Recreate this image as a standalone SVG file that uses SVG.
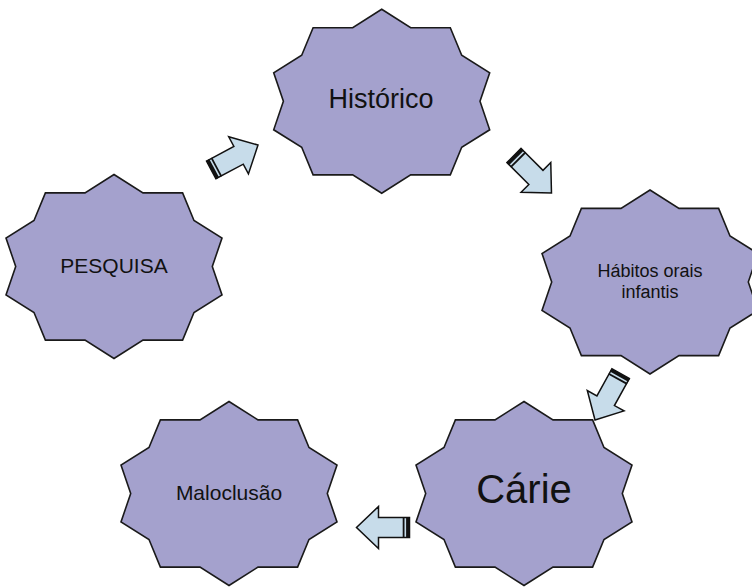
<svg xmlns="http://www.w3.org/2000/svg" xmlns:xlink="http://www.w3.org/1999/xlink" width="752" height="587" viewBox="0 0 752 587">
<style>
.star{fill:#a4a1cd;stroke:#1a1a1a;stroke-width:1.6;stroke-linejoin:miter}
.arr{fill:#c7dcea;stroke:#111;stroke-width:1.5;stroke-linejoin:miter}
.stripe{fill:#111}
.lbl{font-family:"Liberation Sans",Arial,sans-serif;fill:#111;text-anchor:middle}
</style>
<defs>
<polygon id="starShape" class="star" points="0,-92 29,-73.6 68.6,-73.6 80,-46 108,-28.5 98.3,0 108,28.5 80,46 68.6,73.6 29,73.6 0,92 -29,73.6 -68.6,73.6 -80,46 -108,28.5 -98.3,0 -108,-28.5 -80,-46 -68.6,-73.6 -29,-73.6"/>
<g id="arrowShape">
<polygon class="arr" points="0,-10 31,-10 31,-21 53,0 31,21 31,10 0,10"/>
<rect class="stripe" x="0" y="-10.5" width="3.4" height="21"/>
<rect class="stripe" x="5" y="-10.5" width="1.8" height="21"/>
</g>
</defs>
<rect width="752" height="587" fill="#ffffff"/>
<g id="connectors">
<use xlink:href="#arrowShape" transform="translate(211.2,169.9) rotate(-28)"/>
<use xlink:href="#arrowShape" transform="translate(514,155.5) rotate(45)"/>
<use xlink:href="#arrowShape" transform="translate(620.7,373.6) rotate(119)"/>
<use xlink:href="#arrowShape" transform="translate(409.5,527.5) rotate(180)"/>
</g>
<g id="node-pesquisa">
<use xlink:href="#starShape" x="114" y="266.5"/>
<text class="lbl" x="114" y="273.3" font-size="21">PESQUISA</text>
</g>
<g id="node-historico">
<use xlink:href="#starShape" x="381.7" y="101.3"/>
<text class="lbl" x="381" y="108.3" font-size="27">Histórico</text>
</g>
<g id="node-habitos">
<use xlink:href="#starShape" x="650" y="282"/>
<text class="lbl" x="650" y="276.7" font-size="18">Hábitos orais</text>
<text class="lbl" x="650" y="297.7" font-size="18">infantis</text>
</g>
<g id="node-carie">
<use xlink:href="#starShape" x="524" y="493.5"/>
<text class="lbl" x="524" y="503.3" font-size="40">Cárie</text>
</g>
<g id="node-maloclusao">
<use xlink:href="#starShape" x="229" y="493.5"/>
<text class="lbl" x="229" y="500" font-size="21">Maloclusão</text>
</g>
</svg>
